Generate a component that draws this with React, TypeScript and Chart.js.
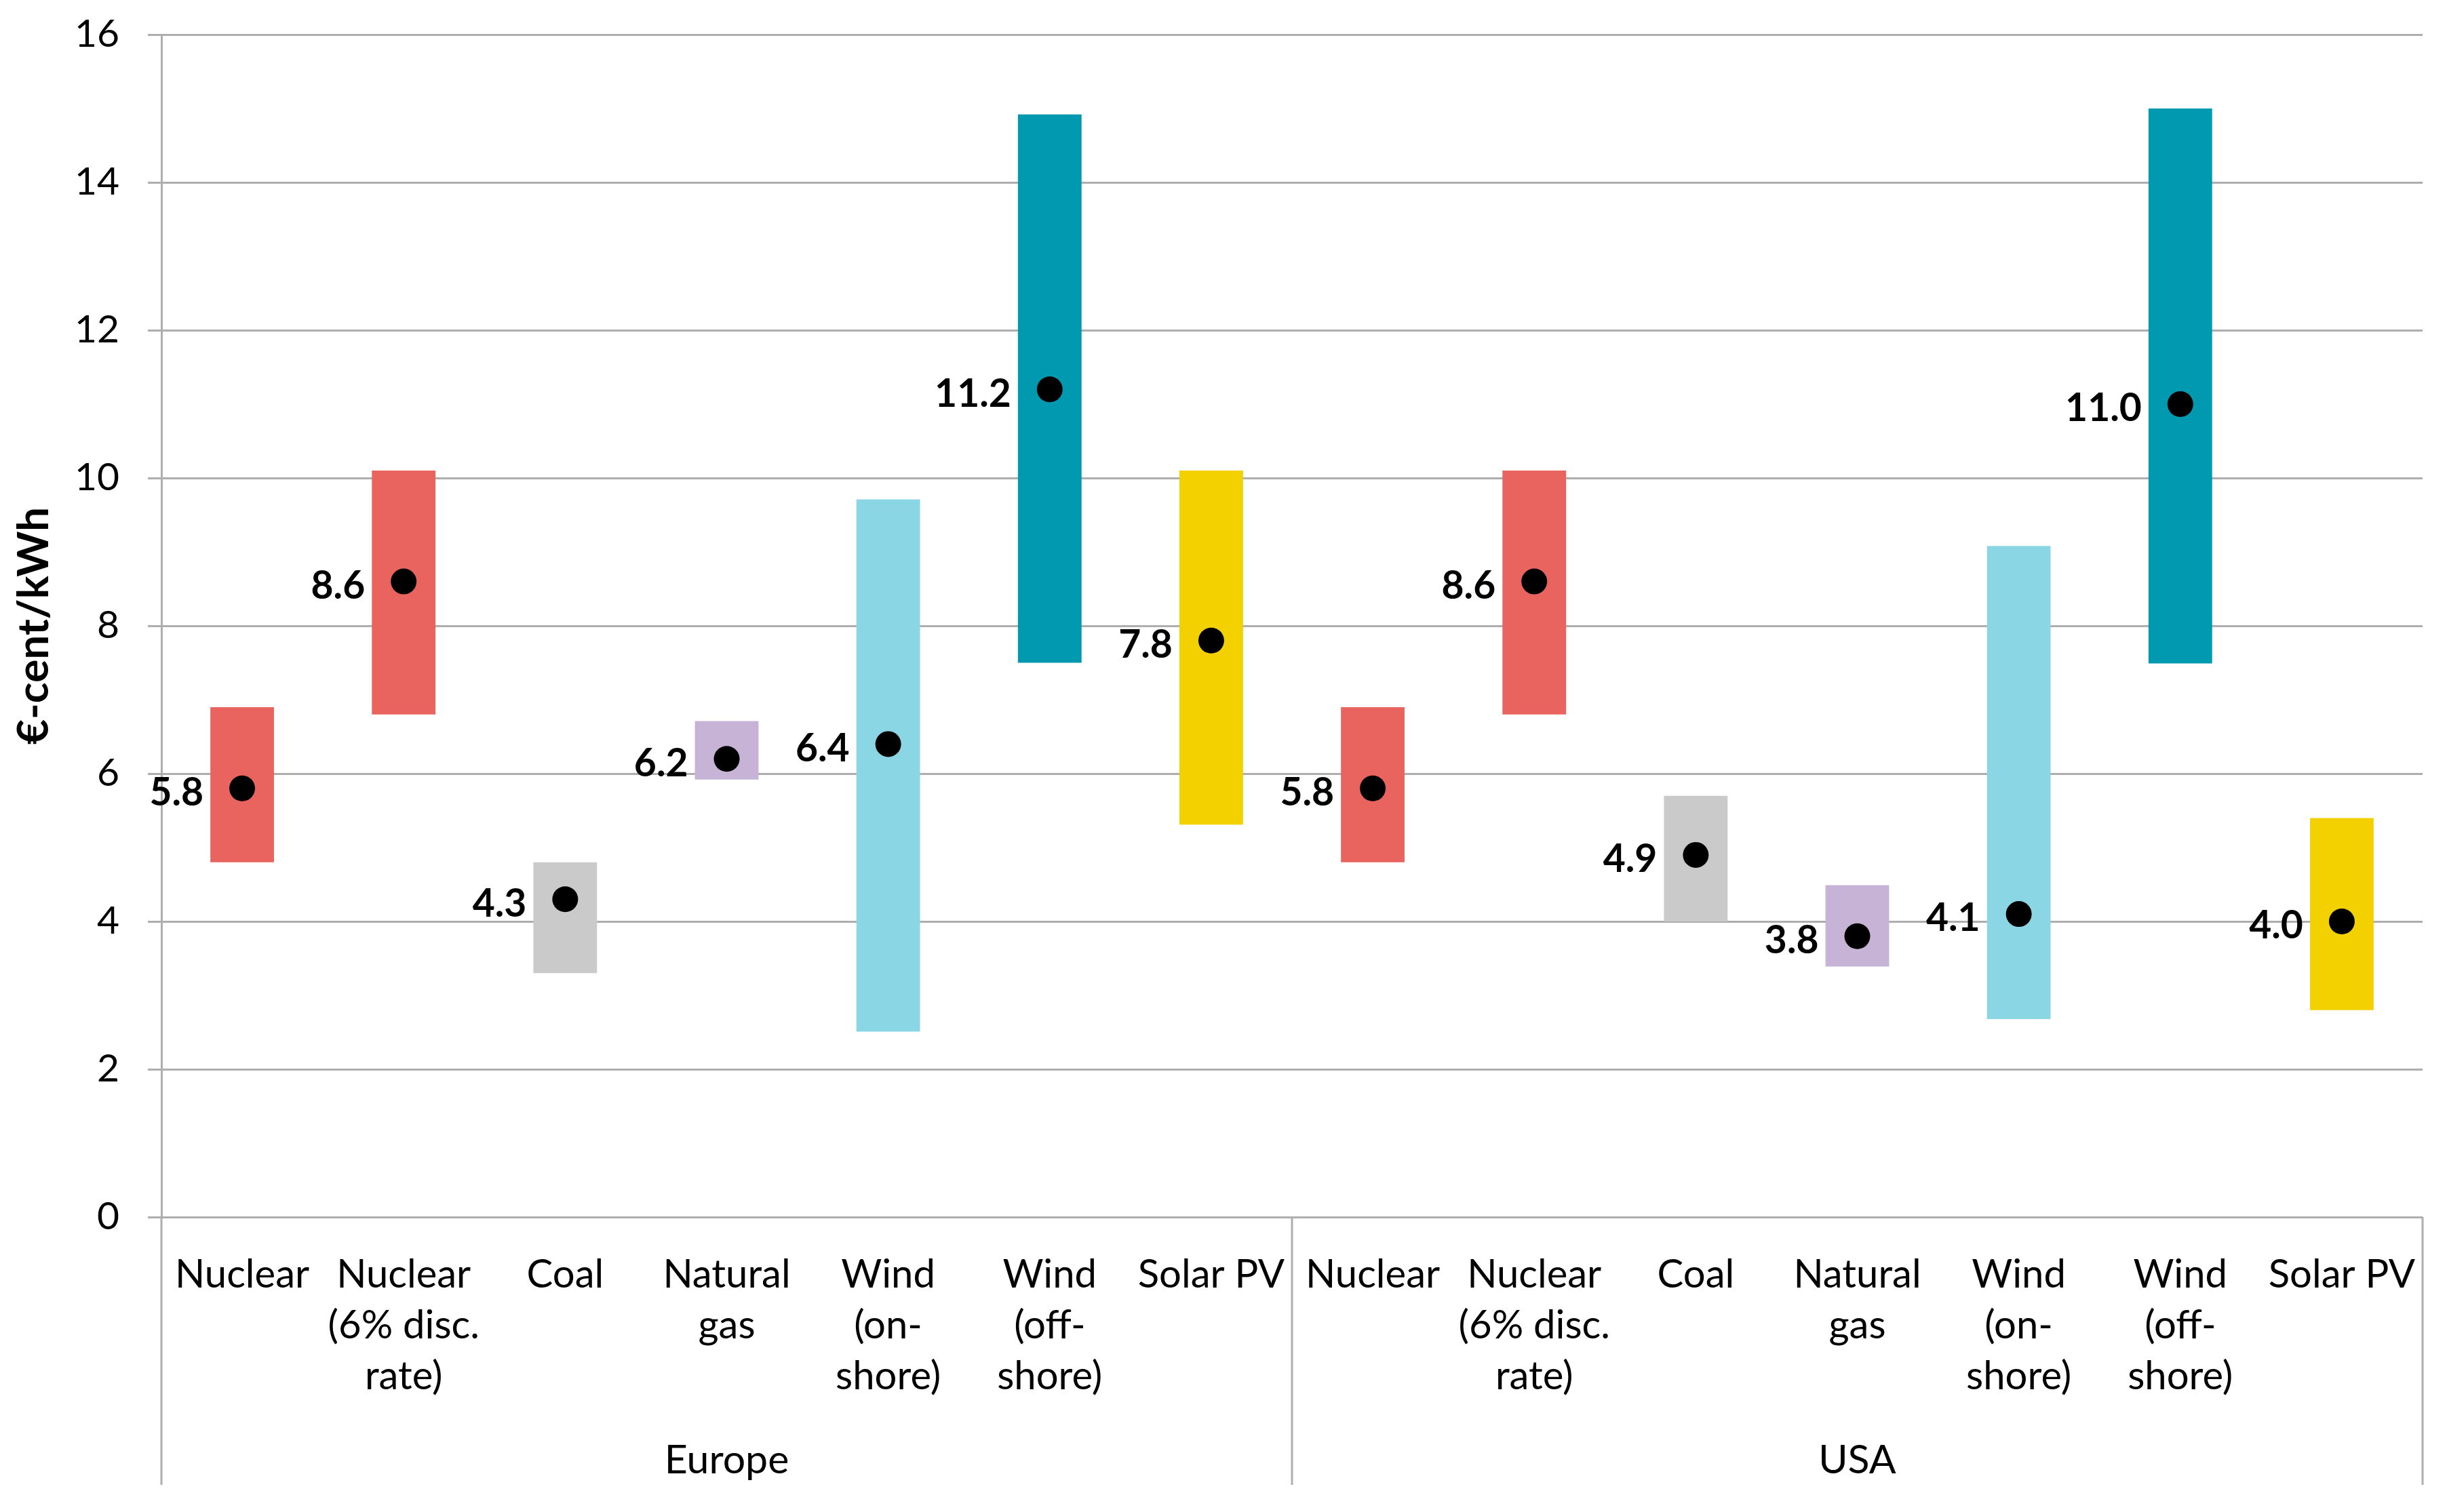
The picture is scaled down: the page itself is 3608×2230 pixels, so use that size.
import React, { useEffect, useRef } from "react";
import { Chart, registerables } from "chart.js";

Chart.register(...registerables);

// ---- data ----
const categoryLabels: string[][] = [
  ["Nuclear"],
  ["Nuclear", "(6% disc.", "rate)"],
  ["Coal"],
  ["Natural", "gas"],
  ["Wind", "(on-", "shore)"],
  ["Wind", "(off-", "shore)"],
  ["Solar PV"],
  ["Nuclear"],
  ["Nuclear", "(6% disc.", "rate)"],
  ["Coal"],
  ["Natural", "gas"],
  ["Wind", "(on-", "shore)"],
  ["Wind", "(off-", "shore)"],
  ["Solar PV"],
];
const groupNames = ["Europe", "USA"];
const groupSizes = [7, 7];
const rangeLow = [4.8, 6.8, 3.3, 5.92, 2.51, 7.5, 5.31, 4.8, 6.8, 4.0, 3.39, 2.68, 7.49, 2.8];
const rangeHigh = [6.9, 10.1, 4.8, 6.71, 9.71, 14.92, 10.1, 6.9, 10.1, 5.7, 4.49, 9.08, 15.0, 5.4];
const centralValues = [5.8, 8.6, 4.3, 6.2, 6.4, 11.2, 7.8, 5.8, 8.6, 4.9, 3.8, 4.1, 11.0, 4.0];
const yMin = 0;
const yMax = 16;
const yStep = 2;
const yTitle = "€-cent/kWh";

// ---- styles ----
const techColors = ["#E9645F", "#E9645F", "#CACACA", "#C7B3D6", "#8BD6E4", "#0099B0", "#F3D000"];
const gridColor = "#AEAEAE";
const FONT = "Lato";

const W = 3608;
const H = 2230;

const groupPlugin = {
  id: "groupAxis",
  afterDraw(chart: any) {
    const { ctx, chartArea, scales } = chart;
    const x = scales.x;
    ctx.save();
    ctx.strokeStyle = gridColor;
    ctx.lineWidth = 3;
    const bottomY = 2190;
    const bounds: number[] = [chartArea.left];
    let idx = 0;
    groupSizes.forEach((n, g) => {
      idx += n;
      if (g < groupSizes.length - 1) {
        bounds.push((x.getPixelForValue(idx - 1) + x.getPixelForValue(idx)) / 2);
      }
    });
    bounds.push(chartArea.right);
    bounds.forEach((bx) => {
      ctx.beginPath();
      ctx.moveTo(bx, chartArea.bottom);
      ctx.lineTo(bx, bottomY);
      ctx.stroke();
    });
    ctx.fillStyle = "#000";
    ctx.font = `59px ${FONT}`;
    ctx.textAlign = "center";
    ctx.textBaseline = "middle";
    let start = 0;
    groupNames.forEach((name, g) => {
      const n = groupSizes[g];
      const cx = (x.getPixelForValue(start) + x.getPixelForValue(start + n - 1)) / 2;
      ctx.fillText(name, cx, 2154);
      start += n;
    });
    ctx.restore();
  },
};

const valueLabelPlugin = {
  id: "valueLabels",
  afterDatasetsDraw(chart: any) {
    const { ctx } = chart;
    const meta = chart.getDatasetMeta(1);
    ctx.save();
    ctx.fillStyle = "#000";
    ctx.font = `bold 57px ${FONT}`;
    ctx.textAlign = "right";
    ctx.textBaseline = "middle";
    meta.data.forEach((pt: any, i: number) => {
      ctx.fillText(centralValues[i].toFixed(1), pt.x - 57, pt.y + 7);
    });
    ctx.restore();
  },
};

export default function App() {
  const ref = useRef<HTMLCanvasElement | null>(null);
  useEffect(() => {
    document.body.style.margin = "0";
    const canvas = ref.current!;
    const chart = new Chart(canvas, {
      type: "bar",
      data: {
        labels: categoryLabels,
        datasets: [
          {
            type: "bar",
            data: rangeLow.map((lo, i) => [lo, rangeHigh[i]]) as any,
            backgroundColor: rangeLow.map((_, i) => techColors[i % techColors.length]),
            borderWidth: 0,
            barPercentage: 0.394,
            categoryPercentage: 1.0,
            order: 2,
          },
          {
            type: "line",
            data: centralValues,
            showLine: false,
            pointRadius: 19,
            pointBackgroundColor: "#000",
            pointBorderWidth: 0,
            borderColor: "#000",
            order: 1,
          } as any,
        ],
      },
      options: {
        responsive: false,
        animation: false,
        devicePixelRatio: 1,
        layout: { padding: { top: 51, right: 36, left: 0, bottom: 0 } },
        plugins: { legend: { display: false }, tooltip: { enabled: false } },
        scales: {
          x: {
            grid: { display: false },
            border: { display: false },
            ticks: {
              autoSkip: false,
              maxRotation: 0,
              minRotation: 0,
              padding: 40,
              color: "#000",
              font: { family: FONT, size: 58, lineHeight: 75 / 58 },
            },
            afterFit(scale: any) {
              scale.height = H - 1795;
              scale.paddingLeft = 0;
              scale.paddingRight = 0;
            },
          },
          y: {
            min: yMin,
            max: yMax,
            ticks: {
              stepSize: yStep,
              padding: 42,
              color: "#000",
              font: { family: FONT, size: 57 },
            },
            grid: { color: gridColor, lineWidth: 3, tickLength: 20 },
            border: { color: gridColor, width: 3 },
            title: {
              display: true,
              text: yTitle,
              color: "#000",
              font: { family: FONT, size: 64, weight: "bold" },
              padding: { top: 12, bottom: 0 },
            },
            afterFit(scale: any) {
              scale.width = 238;
              scale.paddingTop = 0;
              scale.paddingBottom = 0;
            },
          },
        },
      },
      plugins: [groupPlugin, valueLabelPlugin],
    });
    return () => chart.destroy();
  }, []);
  return (
    <div style={{ width: W, height: H, background: "#fff" }}>
      <canvas ref={ref} width={W} height={H} style={{ display: "block" }} />
    </div>
  );
}
